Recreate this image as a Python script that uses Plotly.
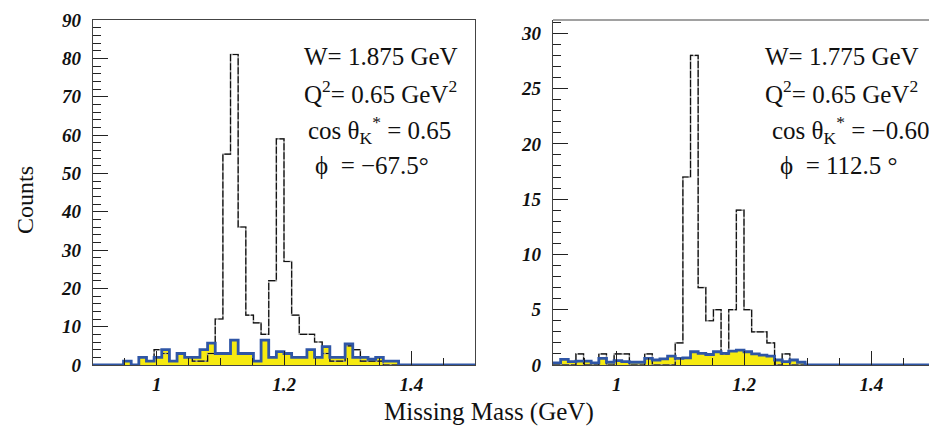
import plotly.graph_objects as go

# ---- data ----
bin_start = 0.9
bin_width = 0.012
n_bins = 50

# Left panel: W=1.875, cos=0.65, phi=-67.5
left_counts = [0, 0, 0, 0, 1, 0, 2, 1, 4, 3,
               1, 3, 2, 1, 1, 3, 12, 55, 81, 36,
               13, 11, 8, 22, 59, 27, 13, 8, 8, 6,
               3, 1, 1, 5, 4, 1, 1, 1, 0, 0,
               0, 0, 0, 0, 0, 0, 0, 0, 0, 0]
left_bkg = [0, 0, 0, 0, 1, 0, 2, 1, 2, 4,
            1, 3, 2, 2, 4, 5.7, 3, 3, 6.5, 3,
            3, 1, 6.5, 2, 3.5, 3, 2, 2, 4, 2,
            4.8, 2, 2, 5.5, 2, 2, 1.5, 2, 1, 1,
            0, 0, 0, 0, 0, 0, 0, 0, 0, 0]

# Right panel: W=1.775, cos=-0.60, phi=112.5
right_counts = [0, 0, 0, 1, 0, 0, 1, 0, 1, 1,
                0, 0, 1, 0, 0, 0, 2, 17, 28, 7,
                4, 5, 1, 5, 14, 5, 3, 3, 2, 0,
                1, 0, 0, 0, 0, 0, 0, 0, 0, 0,
                0, 0, 0, 0, 0, 0, 0, 0, 0, 0]
right_bkg = [0.2, 0.5, 0.3, 0.35, 0.35, 0.2, 0.6, 0.25, 0.4, 0.3,
             0.25, 0.25, 0.6, 0.45, 0.55, 0.8, 0.6, 0.65, 1.2, 1.05,
             0.95, 1.2, 1.05, 1.25, 1.35, 1.2, 1.0, 0.9, 0.8, 0.45,
             0.3, 0.45, 0.25, 0, 0, 0, 0, 0, 0, 0,
             0, 0, 0, 0, 0, 0, 0, 0, 0, 0]

x_tick_vals = [1.0, 1.2, 1.4]
x_tick_text = ["1", "1.2", "1.4"]

edges = [bin_start + i * bin_width for i in range(n_bins + 1)]

W, H = 929, 428
YELLOW = "#f6ea10"
BLUE = "#2f56a6"


def step(vals):
    return edges, list(vals) + [vals[-1]]


fig = go.Figure()

for (counts, bkg, xa, ya) in [(left_counts, left_bkg, "x", "y"),
                              (right_counts, right_bkg, "x2", "y2")]:
    xs, ys = step(bkg)
    fig.add_trace(go.Scatter(x=xs, y=ys, mode="lines", line=dict(shape="hv", width=0),
                             fill="tozeroy", fillcolor=YELLOW, xaxis=xa, yaxis=ya,
                             showlegend=False, hoverinfo="skip"))
    xs, ys = step(counts)
    fig.add_trace(go.Scatter(x=xs, y=ys, mode="lines",
                             line=dict(shape="hv", width=1.5, color="#9a9a9a"),
                             xaxis=xa, yaxis=ya, showlegend=False, hoverinfo="skip"))
    fig.add_trace(go.Scatter(x=xs, y=ys, mode="lines",
                             line=dict(shape="hv", width=1.2, color="#111", dash="7px,2px"),
                             xaxis=xa, yaxis=ya, showlegend=False, hoverinfo="skip"))
    xs, ys = step(bkg)
    fig.add_trace(go.Scatter(x=xs, y=ys, mode="lines",
                             line=dict(shape="hv", width=2.8, color=BLUE),
                             xaxis=xa, yaxis=ya, showlegend=False, hoverinfo="skip"))

tickfont = dict(family="Liberation Serif", size=19, color="#111", weight="bold", style="italic")
ydom = [63 / H, 408 / H]

common_x = dict(tickmode="array", tickvals=x_tick_vals, ticktext=x_tick_text,
                ticks="inside", ticklen=14, tickcolor="#222", tickwidth=1.2,
                minor=dict(dtick=0.05, tick0=1.0, ticks="inside", ticklen=7,
                           tickcolor="#222", tickwidth=1),
                showgrid=False, zeroline=False, showline=True, linecolor="#444",
                linewidth=1.2, tickfont=tickfont, ticklabelstandoff=2, automargin=False)
common_y = dict(ticks="inside", ticklen=15, tickcolor="#222", tickwidth=1.2,
                showgrid=False, zeroline=False, showline=True, linecolor="#444",
                linewidth=1.2, tickfont=tickfont, domain=ydom, ticklabelstandoff=7,
                automargin=False)

fig.update_layout(
    width=W, height=H, margin=dict(l=0, r=0, t=0, b=0, autoexpand=False),
    paper_bgcolor="white", plot_bgcolor="white",
    xaxis=dict(common_x, domain=[93 / W, 475 / W], range=[0.9, 1.5], mirror=True,
               anchor="y"),
    yaxis=dict(common_y, range=[0, 90], dtick=10, tick0=0, mirror=True, anchor="x",
               minor=dict(dtick=2, ticks="inside", ticklen=8, tickcolor="#222", tickwidth=1)),
    xaxis2=dict(common_x, domain=[553 / W, 1.0], range=[0.9, 0.9 + 376 / (382 / 0.6)],
                anchor="y2"),
    yaxis2=dict(common_y, range=[0, 31.2], dtick=5, tick0=0, anchor="x2",
                minor=dict(dtick=1, ticks="inside", ticklen=8, tickcolor="#222", tickwidth=1)),
)

fig.add_shape(type="line", xref="x2 domain", yref="y2 domain", x0=0, x1=1, y0=1, y1=1,
              line=dict(color="#444", width=1.2))

tfont = dict(family="Liberation Serif", size=25, color="#111")


def ann(text, px, py, anchor="left", size=25, **kw):
    fig.add_annotation(text=text, x=px / W, y=1 - py / H, xref="paper", yref="paper",
                       xanchor=anchor, yanchor="middle", showarrow=False,
                       font=dict(tfont, size=size), **kw)


ann("W= 1.875 GeV", 302, 56)
ann("Q<sup>2</sup>= 0.65 GeV<sup>2</sup>", 302, 92)
ann("cos θ<sub>K</sub><sup>*</sup> = 0.65", 306, 130)
ann("ϕ  = −67.5°", 313, 165)

ann("W= 1.775 GeV", 763, 56)
ann("Q<sup>2</sup>= 0.65 GeV<sup>2</sup>", 763, 92)
ann("cos θ<sub>K</sub><sup>*</sup> = −0.60", 770, 130)
ann("ϕ  = 112.5 °", 778, 165)

ann("Counts", 25, 200, anchor="center", size=24, textangle=-90)
ann("Missing Mass (GeV)", 489, 412, anchor="center", size=25)

fig.write_html("out.html")
